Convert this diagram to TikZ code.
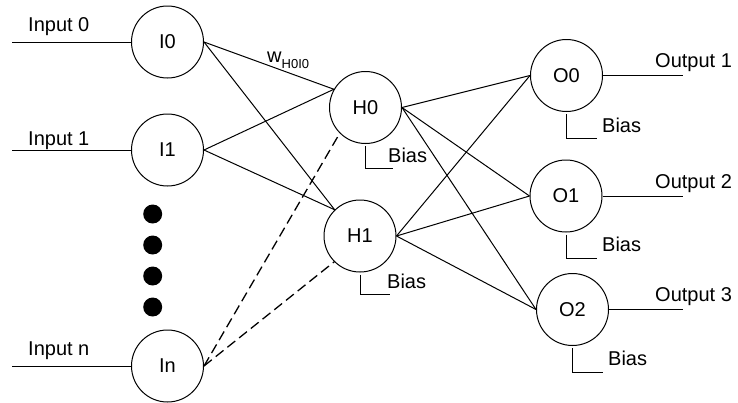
\documentclass[tikz,border=0pt]{standalone}
\usepackage{fontspec}
\setmainfont{Liberation Sans}
\begin{document}
\begin{tikzpicture}[x=1pt,y=-1pt,
  every node/.style={font=\fontsize{20}{24}\selectfont},
  neuron/.style={draw,circle,minimum size=72pt,inner sep=0pt,line width=1pt},
  wire/.style={line width=1pt},
  dashwire/.style={line width=1.3pt,dash pattern=on 10pt off 5pt},
  lbl/.style={anchor=base west,inner sep=0pt},
  dotmark/.style={fill=black,circle,minimum size=19pt,inner sep=0pt}]
\useasboundingbox (0,0) rectangle (738,402);

% input layer
\node[neuron] (I0) at (167.5,42) {I0};
\node[neuron] (I1) at (167.5,150) {I1};
\node[neuron] (In) at (167.5,366) {In};
% hidden layer
\node[neuron] (H0) at (365.5,107.5) {H0};
\node[neuron] (H1) at (360,236) {H1};
% output layer
\node[neuron] (O0) at (566.5,75.5) {O0};
\node[neuron] (O1) at (566,196) {O1};
\node[neuron] (O2) at (572.5,309.5) {O2};

% ellipsis between I1 and In
\foreach \y/\n in {214/d1,245/d2,276/d3,307/d4}
  \node[dotmark] (\n) at (152.7,\y) {};

% input wires and labels
\coordinate (in0) at (12,42);
\coordinate (in1) at (12,150);
\coordinate (inn) at (12,366);
\draw[wire] (in0) -- (I0.west);
\draw[wire] (in1) -- (I1.west);
\draw[wire] (inn) -- (In.west);
\node[lbl] (tin0) at (28,31) {Input 0};
\node[lbl] (tin1) at (28,145) {Input 1};
\node[lbl] (tinn) at (28,355) {Input n};

% output wires and labels
\coordinate (out1) at (683,75.5);
\coordinate (out2) at (683,196);
\coordinate (out3) at (683,309.5);
\draw[wire] (O0.east) -- (out1);
\draw[wire] (O1.east) -- (out2);
\draw[wire] (O2.east) -- (out3);
\node[lbl] (tout1) at (655,67) {Output 1};
\node[lbl] (tout2) at (655,188) {Output 2};
\node[lbl] (tout3) at (655,301) {Output 3};

% input -> hidden weights
\draw[wire] (I0.east) -- (H0.150);
\draw[wire] (I1.east) -- (H0.150);
\draw[wire] (I0.east) -- (H1.134);
\draw[wire] (I1.east) -- (H1.134);
\draw[dashwire] (In.east) -- (H0.225);
\draw[dashwire] (In.east) -- (H1.225);
\node[lbl] (wlabel) at (267,62) {w\raisebox{-6pt}{\fontsize{13}{13}\selectfont H0I0}};

% hidden -> output weights
\foreach \h in {H0,H1}
  \foreach \o in {O0,O1,O2}
    \draw[wire] (\h.east) -- (\o.west);

% bias taps: an elbow below each neuron and its label
\foreach \n/\r/\ly/\tx/\by in {H0/393/168/388/162, H1/390/294/387/288,
    O0/597/138/602/132, O1/597/258/602/251, O2/603/372/608/365}{
  \coordinate (\n b) at ([yshift=-2pt]\n.south);
  \coordinate (\n e) at (\r,\ly);
  \draw[wire] (\n b) |- (\n e);
  \node[lbl] (\n t) at (\tx,\by) {Bias};
}
\end{tikzpicture}
\end{document}
